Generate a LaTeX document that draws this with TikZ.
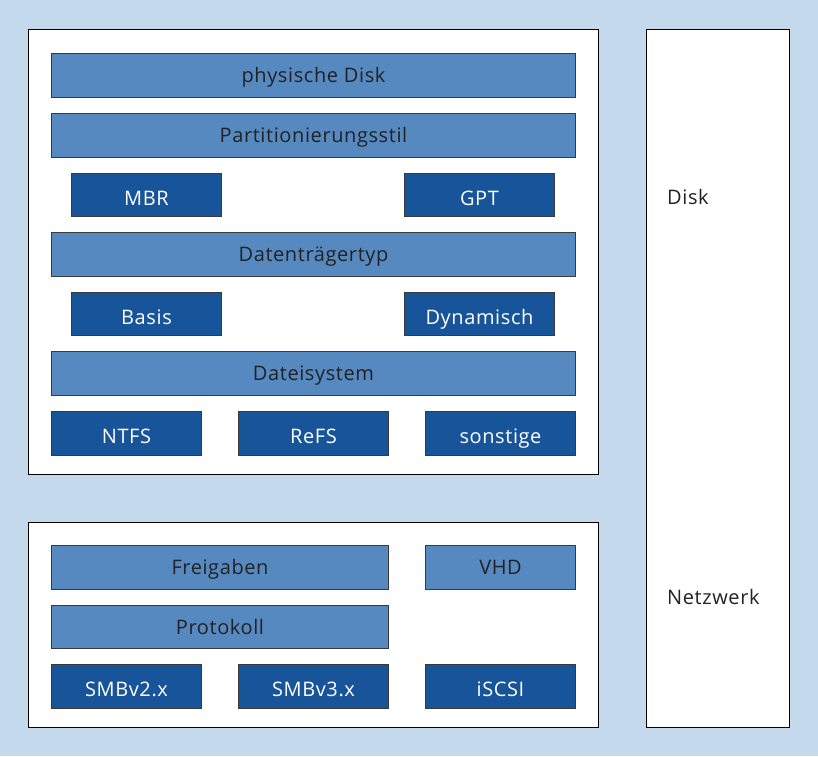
\documentclass[tikz,border=0pt]{standalone}
\usepackage{fontspec}
\setmainfont[LetterSpace=3]{Open Sans}
\definecolor{bgblue}{HTML}{C5D9EC}
\definecolor{lightbar}{HTML}{5589BF}
\definecolor{darkbar}{HTML}{17549A}
\definecolor{bordergray}{HTML}{3A3A3A}
\definecolor{txtdark}{HTML}{222222}
\begin{document}
\begin{tikzpicture}[x=1pt,y=-1pt,
  frame/.style={draw=black,fill=white,line width=1.1pt,anchor=north west,inner sep=0pt},
  boxbase/.style={line width=1pt,anchor=north west,inner sep=0pt,font=\fontsize{20}{24}\selectfont},
  lbar/.style={boxbase,text height=17pt,text depth=3pt,draw=bordergray,fill=lightbar,text=txtdark},
  dbar/.style={boxbase,text height=20pt,text depth=0pt,draw=bordergray,fill=darkbar,text=white},
  side/.style={text=txtdark,anchor=west,inner sep=0pt,text height=14pt,text depth=6pt,font=\fontsize{20}{24}\selectfont}]
\fill[bgblue] (0,0) rectangle (818,756);
\useasboundingbox (0,0) rectangle (818,756);
% frames
\node[frame,minimum width=570pt,minimum height=445pt] (top) at (28,29) {};
\node[frame,minimum width=570pt,minimum height=205pt] (bottom) at (28,522) {};
\node[frame,minimum width=143pt,minimum height=698pt] (right) at (646,29) {};
% top
\node[lbar,minimum width=524pt,minimum height=44pt] (pd) at (51,53) {physische Disk};
\node[lbar,minimum width=524pt,minimum height=44pt] (ps) at (51,113) {Partitionierungsstil};
\node[dbar,minimum width=150pt,minimum height=43pt] (mbr) at (71,173) {MBR};
\node[dbar,minimum width=150pt,minimum height=43pt] (gpt) at (404,173) {GPT};
\node[lbar,minimum width=524pt,minimum height=44pt] (dt) at (51,232) {Datenträgertyp};
\node[dbar,minimum width=150pt,minimum height=43pt] (basis) at (71,292) {Basis};
\node[dbar,minimum width=150pt,minimum height=43pt] (dyn) at (404,292) {Dynamisch};
\node[lbar,minimum width=524pt,minimum height=44pt] (ds) at (51,351) {Dateisystem};
\node[dbar,minimum width=150pt,minimum height=44pt] (ntfs) at (51,411) {NTFS};
\node[dbar,minimum width=150pt,minimum height=44pt] (refs) at (238,411) {ReFS};
\node[dbar,minimum width=150pt,minimum height=44pt] (sonst) at (425,411) {sonstige};
% bottom
\node[lbar,minimum width=337pt,minimum height=44pt] (frei) at (51,545) {Freigaben};
\node[lbar,minimum width=150pt,minimum height=44pt] (vhd) at (425,545) {VHD};
\node[lbar,minimum width=337pt,minimum height=43pt] (proto) at (51,605) {Protokoll};
\node[dbar,minimum width=150pt,minimum height=44pt] (smb2) at (51,664) {SMBv2.x};
\node[dbar,minimum width=150pt,minimum height=44pt] (smb3) at (238,664) {SMBv3.x};
\node[dbar,minimum width=150pt,minimum height=44pt] (iscsi) at (425,664) {iSCSI};
% side labels
\node[side] (disk) at (667,200) {Disk};
\node[side] (netz) at (667,600) {Netzwerk};
\end{tikzpicture}
\end{document}
